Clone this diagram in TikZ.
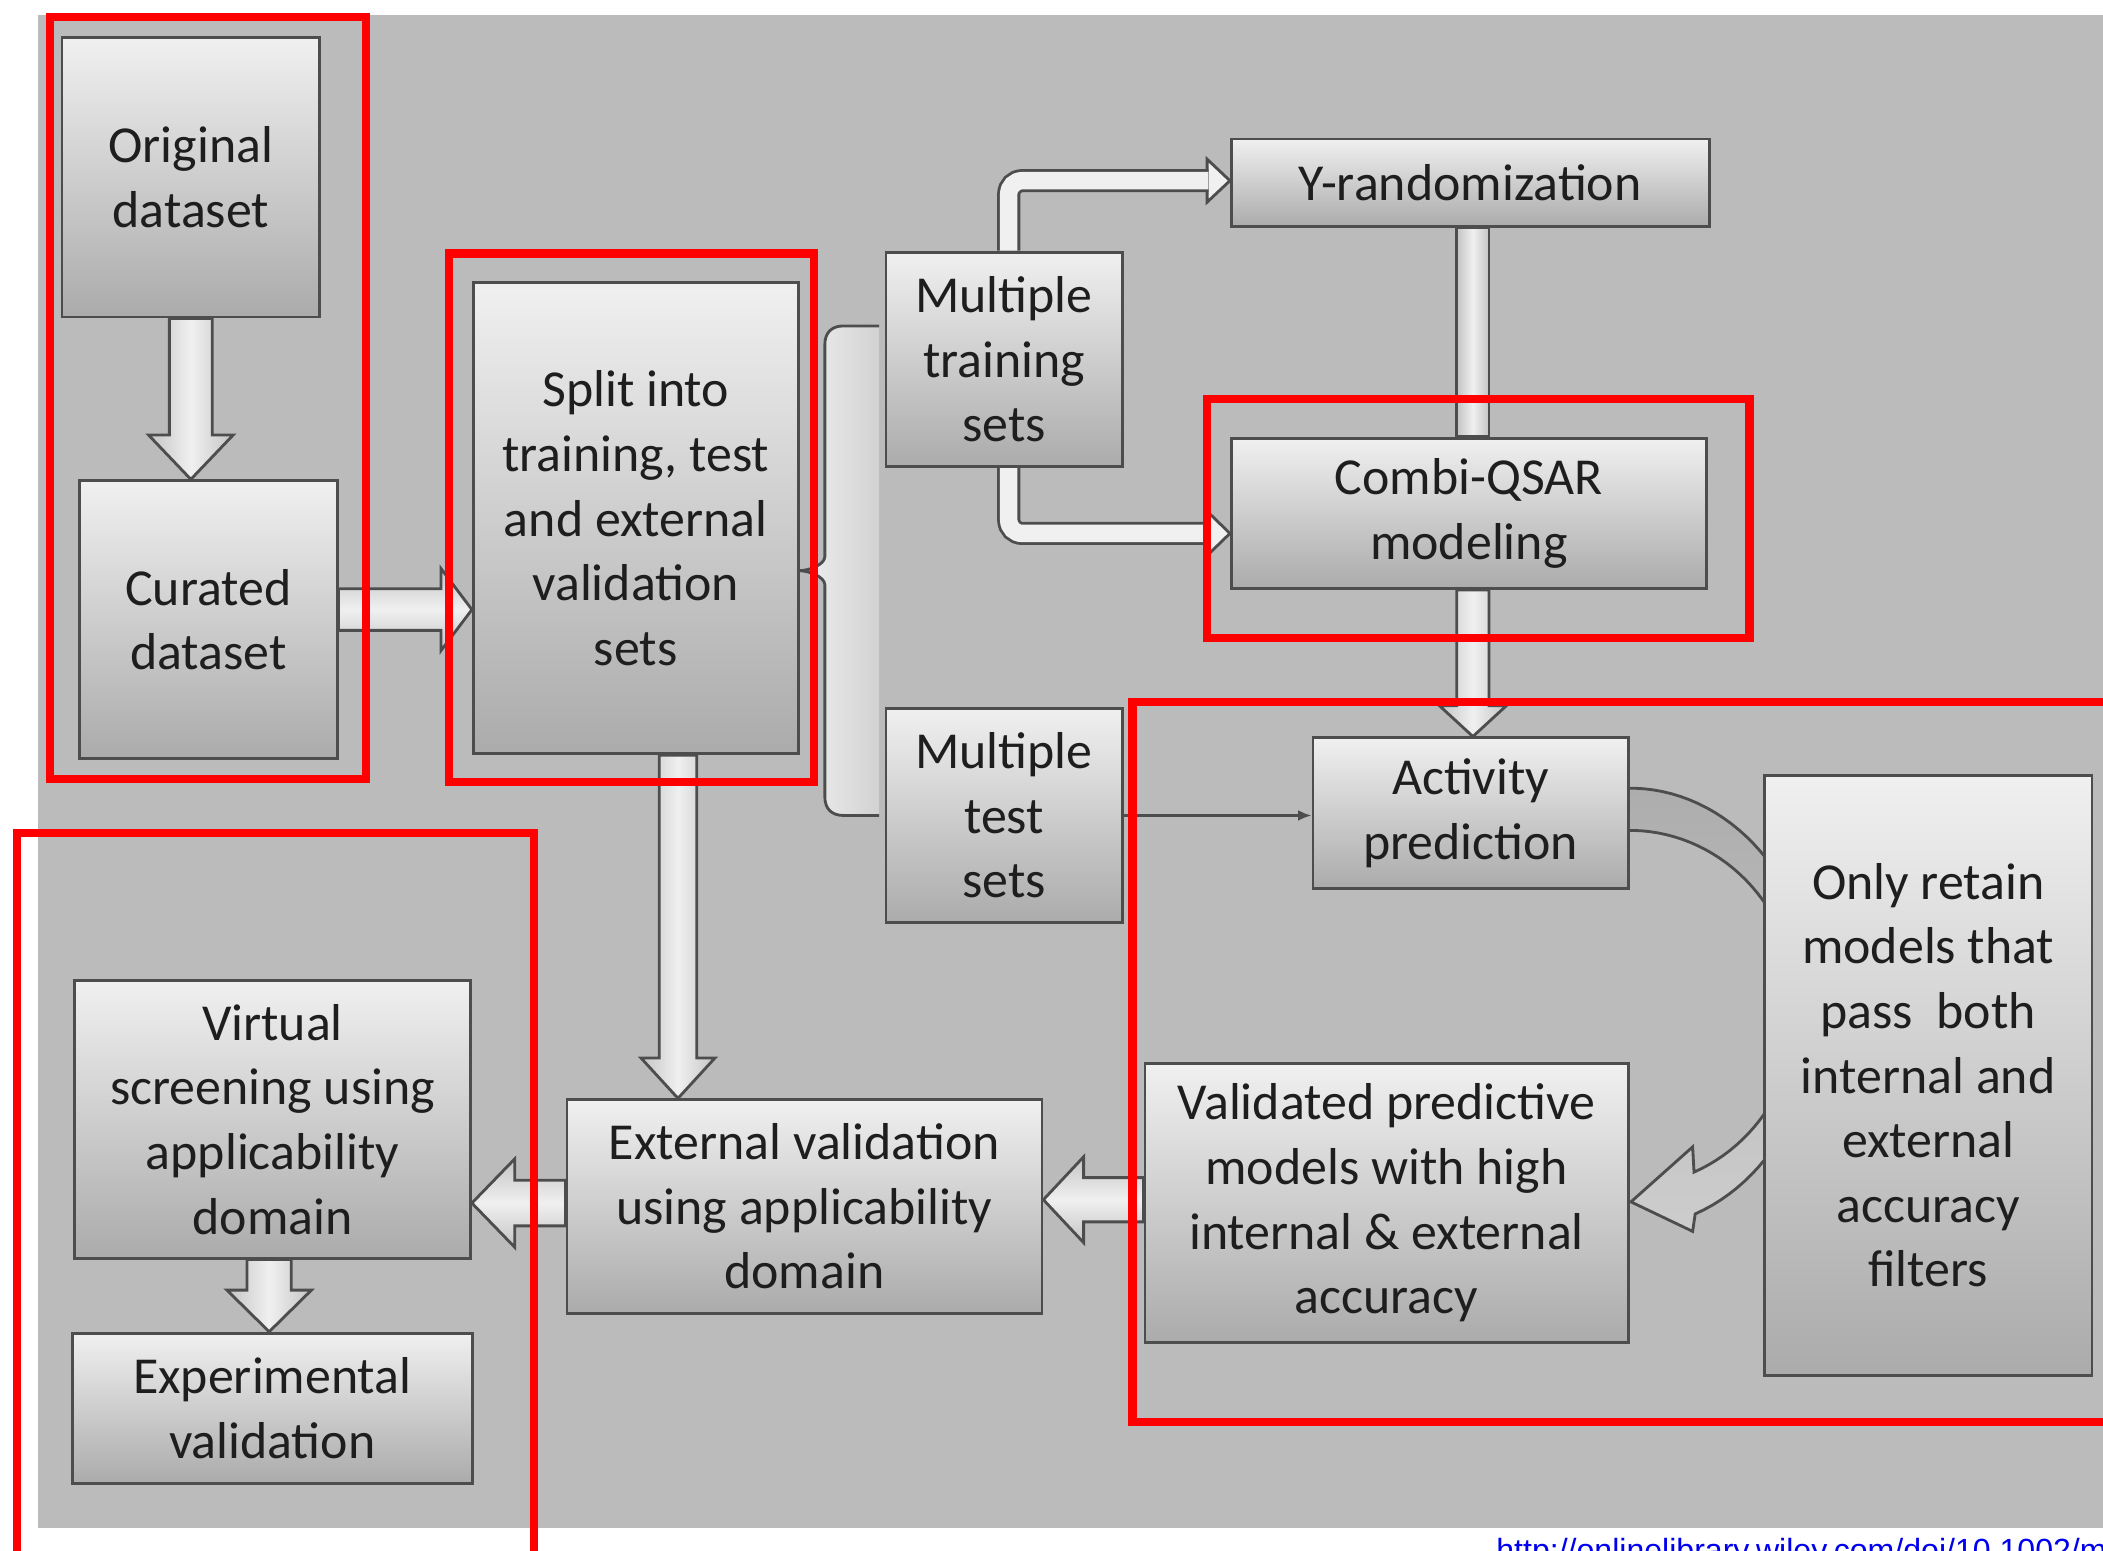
\documentclass[tikz,border=0pt]{standalone}
\usepackage{fontspec}
\setmainfont{Carlito}
\newfontfamily\urlfont{Liberation Sans}
\usepackage{xcolor}
\usepackage{tikz}
\usetikzlibrary{calc}
\usetikzlibrary{arrows.meta}
\usetikzlibrary{backgrounds}
\definecolor{Back}{HTML}{BBBBBB}
\definecolor{BoxTop}{HTML}{F0F0F0}
\definecolor{BoxBot}{HTML}{ABABAB}
\definecolor{Edge}{HTML}{4D4D4D}
\definecolor{Ink}{HTML}{1E1E1E}
\definecolor{ArrLight}{HTML}{F0F0F0}
\definecolor{ArrDark}{HTML}{C4C4C4}
\definecolor{BraDark}{HTML}{D2D2D2}
\definecolor{CurlTop}{HTML}{ADADAD}
\definecolor{CurlBot}{HTML}{CDCDCD}
\definecolor{Link}{HTML}{0000EE}
\colorlet{Frame}{red}

\tikzset{
  proc/.style={draw=Edge, line width=0.6pt, top color=BoxTop, bottom color=BoxBot,
    text=Ink, align=center, inner sep=0pt, font=\fontsize{11}{13.7}\selectfont},
  fat/.style n args={3}{draw=Edge, line width=0.6pt, line join=miter,
    to path={($(\tikztotarget)!#3!(\tikztostart)$) coordinate (hb)
      ($(\tikztostart)!#1!90:(\tikztotarget)$) -- ($(hb)!#1!90:(\tikztotarget)$)
      -- ($(hb)!#2!90:(\tikztotarget)$) -- (\tikztotarget)
      -- ($(hb)!#2!-90:(\tikztotarget)$) -- ($(hb)!#1!-90:(\tikztotarget)$)
      -- ($(\tikztostart)!#1!-90:(\tikztotarget)$) -- cycle}},
  fatbar/.style={draw=Edge, line width=0.6pt,
    to path={($(\tikztostart)!#1!90:(\tikztotarget)$) -- ($(\tikztotarget)!#1!-90:(\tikztostart)$)
      -- ($(\tikztotarget)!#1!90:(\tikztostart)$) -- ($(\tikztostart)!#1!-90:(\tikztotarget)$) -- cycle}},
  vsh/.style={left color=ArrDark, right color=ArrDark, middle color=ArrLight},
  hsh/.style={top color=ArrDark, bottom color=ArrDark, middle color=ArrLight},
  pipe/.style={draw=Edge, line width=0.6pt, double=ArrLight, double distance=0.13cm,
    rounded corners=0.1cm},
  pipehead/.style={draw=Edge, line width=0.6pt, fill=ArrLight,
    to path={($(\tikztostart)!#1!90:(\tikztotarget)$) -- (\tikztotarget)
      -- ($(\tikztostart)!#1!-90:(\tikztotarget)$) -- cycle}},
  redbox/.style={draw=Frame, line width=0.062cm},
}

\begin{document}
\begin{tikzpicture}[x=0.01cm, y=-0.01cm]
    \useasboundingbox (0,0) rectangle (1568,1156);
    \clip (0,0) rectangle (1568,1156);
    \begin{scope}[on background layer]
        \fill[white] (0,0) rectangle (1568,1156);
        \fill[Back] (28.3,11.4) rectangle (1568,1139.5);
    \end{scope}

    % boxes
    \node[proc, minimum width=1.92cm, minimum height=2.08cm] (Orig) at (142.3,132.3) {Original\\dataset};
    \node[proc, minimum width=1.92cm, minimum height=2.07cm] (Cur) at (155.3,462) {Curated\\dataset};
    \node[proc, minimum width=2.42cm, minimum height=3.51cm] (Split) at (474,386.5) {Split into\\training, test\\and external\\validation\\sets};
    \node[proc, minimum width=1.76cm, minimum height=1.60cm] (MTr) at (748.6,268) {Multiple\\training\\sets};
    \node[proc, minimum width=1.76cm, minimum height=1.60cm] (MTe) at (748.6,608) {Multiple\\test\\sets};
    \node[proc, minimum width=3.56cm, minimum height=0.65cm] (YR) at (1096.2,136.2) {Y-randomization};
    \node[proc, minimum width=3.54cm, minimum height=1.12cm] (CQ) at (1095.2,382.7) {Combi-QSAR\\modeling};
    \node[proc, minimum width=2.35cm, minimum height=1.12cm] (Act) at (1096.5,606.2) {Activity\\prediction};
    \node[proc, minimum width=2.44cm, minimum height=4.47cm] (Keep) at (1437.7,801.7) {Only retain\\models that\\pass\ \ both\\internal and\\external\\accuracy\\filters};
    \node[proc, minimum width=3.60cm, minimum height=2.08cm] (Val) at (1033.8,897) {Validated predictive\\models with high\\internal \& external\\accuracy};
    \node[proc, minimum width=3.54cm, minimum height=1.59cm] (Ext) at (599.8,899.5) {External validation\\using applicability\\domain};
    \node[proc, minimum width=2.95cm, minimum height=2.07cm] (VS) at (203.2,834.5) {Virtual\\screening using\\applicability\\domain};
    \node[proc, minimum width=2.98cm, minimum height=1.12cm] (Exp) at (203,1050) {Experimental\\validation};

    % anchor points of the fat arrows
    \coordinate (c1) at ($(Cur.east)+(0,-7.5)$);
    \coordinate (c2) at ($(Split.south)+(31.5,0)$);
    \coordinate (c3) at ($(Ext.west)+(0,-2.5)$);
    \coordinate (c4) at ($(Val.west)+(0,-2.5)$);
    \coordinate (c5) at ($(VS.south)+(-2.5,0)$);
    \coordinate (c6) at ($(CQ.south)+(3,0)$);
    \coordinate (c7) at ($(YR.south)+(2,0)$);
    \coordinate (c8) at ($(MTr.north)+(3.5,0)$);
    \coordinate (c9) at ($(YR.west)+(-17,-1.5)$);
    \coordinate (c10) at ($(MTr.south)+(3.5,0)$);
    \coordinate (c11) at ($(CQ.west)+(-17,15)$);
    \coordinate (bt) at ($(MTr.west)+(-4,-25)$);
    \coordinate (bb) at ($(MTe.west)+(-4,0)$);
    \coordinate (rc) at ($(Act.east)!0.5!(Val.east)$);

    % fat arrows
    \begin{scope}[on background layer]
        \draw[fat={0.16cm}{0.315cm}{0.33cm}, vsh] (Orig.south) to (Orig.south |- Cur.north);
        \draw[fat={0.155cm}{0.305cm}{0.23cm}, hsh] (c1) to (c1 -| Split.west);
        \draw[fat={0.14cm}{0.275cm}{0.30cm}, vsh] (c2) to (c2 |- Ext.north);
        \draw[fat={0.17cm}{0.33cm}{0.32cm}, hsh] (c3) to (c3 -| VS.east);
        \draw[fat={0.165cm}{0.32cm}{0.30cm}, hsh] (c4) to (c4 -| Ext.east);
        \draw[fat={0.165cm}{0.315cm}{0.31cm}, vsh] (c5) to (c5 |- Exp.north);
        \draw[fat={0.12cm}{0.25cm}{0.23cm}, vsh] (c6) to (c6 |- Act.north);
        \draw[fatbar=0.12cm, vsh] (c7) to (c7 |- CQ.north);
        % bent pipes
        \draw[pipehead=0.16cm] (c9) to (c9 -| YR.west);
        \draw[pipe] (c8) |- ($(c9)+(1,0)$);
        \draw[pipehead=0.165cm] (c11) to (c11 -| CQ.west);
        \draw[pipe] (c10) |- ($(c11)+(1,0)$);
        % bracket to the two set boxes
        \draw[Edge, line width=0.6pt, left color=ArrLight, right color=BraDark]
            (bt) -- (629,243) .. controls (620,243) and (615,248) .. (615,257)
            -- (615,415) .. controls (615,421) and (603,425.5) .. (596,425.5)
            .. controls (603,425.5) and (615,430) .. (615,436)
            -- (615,594) .. controls (615,603) and (620,608) .. (629,608) -- (bb);
    \end{scope}

    % curved arrow behind the filter box
    \begin{scope}[on background layer, shift={(rc)}]
        \draw[Edge, line width=0.6pt, top color=CurlTop, bottom color=CurlBot]
            plot[domain=-100:69.4, samples=60] ({139*cos(\x)},{164*sin(\x)})
            -- (47,166.5) -- (1,144.5) -- (47,103.5)
            -- plot[domain=67.4:-100, samples=60] ({125*cos(\x)},{132.5*sin(\x)}) -- cycle;
    \end{scope}

    % thin arrow
    \draw[Edge, line width=0.5pt, -{Latex[length=0.1cm,width=0.08cm]}] (MTe.east) -- (MTe.east -| Act.west);

    % red frames
    \draw[redbox] (37.5,12.7) rectangle (273,581);
    \draw[redbox] (335,189) rectangle (607,583);
    \draw[redbox] (900,297.5) rectangle (1304.5,475.5);
    \draw[redbox] (844.5,523.5) rectangle (1600,1060);
    \draw[redbox] (12.5,621.3) rectangle (398,1200);

    \node[anchor=north west, inner sep=0pt, text=Link, font=\urlfont\fontsize{6.8}{8}\selectfont] (url) at (1115,1146) {http://onlinelibrary.wiley.com/doi/10.1002/m};
\end{tikzpicture}
\end{document}
